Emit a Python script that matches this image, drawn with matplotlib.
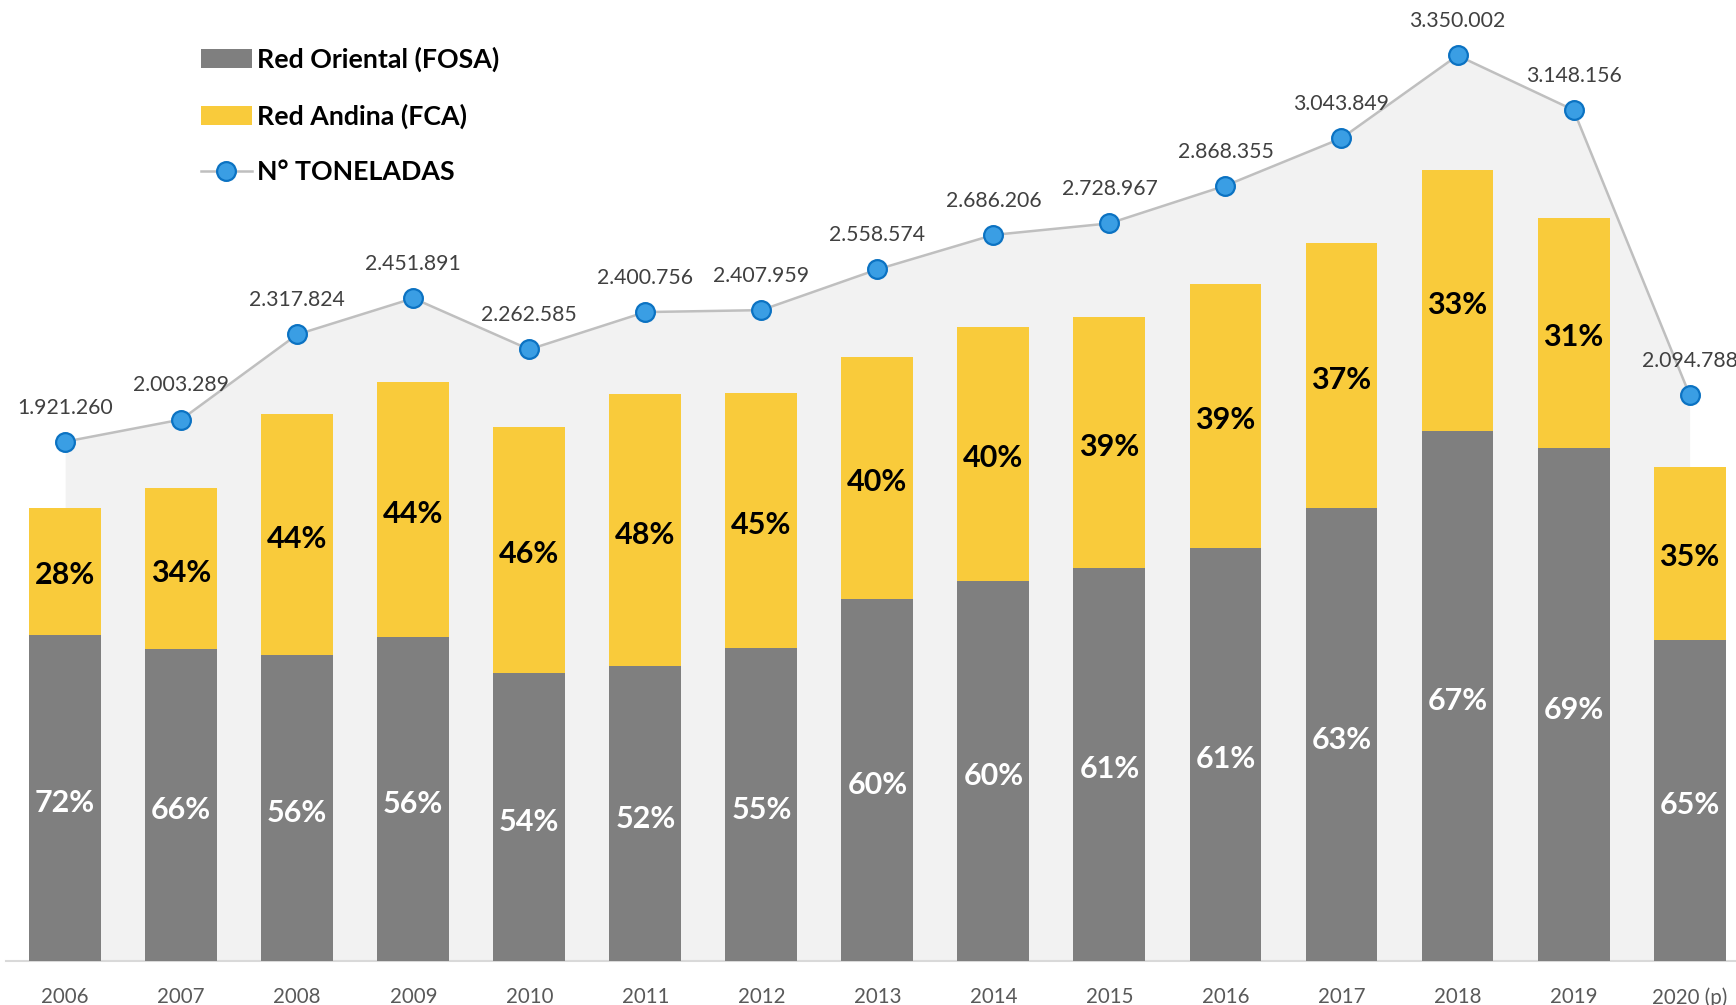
import matplotlib
matplotlib.use("Agg")
import matplotlib.pyplot as plt
from matplotlib.patches import Patch
from matplotlib.lines import Line2D
import numpy as np

years = ['2006', '2007', '2008', '2009', '2010', '2011', '2012', '2013',
         '2014', '2015', '2016', '2017', '2018', '2019', '2020 (p)']
toneladas = [1921260, 2003289, 2317824, 2451891, 2262585, 2400756, 2407959,
             2558574, 2686206, 2728967, 2868355, 3043849, 3350002, 3148156,
             2094788]
fosa_pct = [72, 66, 56, 56, 54, 52, 55, 60, 60, 61, 61, 63, 67, 69, 65]
fca_pct = [28, 34, 44, 44, 46, 48, 45, 40, 40, 39, 39, 37, 33, 31, 35]

FONT = ['Lato', 'DejaVu Sans']
plt.rcParams['font.family'] = FONT

GRAY = '#7F7F7F'
YELLOW = '#F9CB3B'
LINE = '#BFBFBF'
AREA = '#F2F2F2'
MK = dict(marker='o', markersize=13.5, markerfacecolor='#3A9EE4',
          markeredgecolor='#0B72C2', markeredgewidth=1.6)

W, H = 1736, 1005
fig = plt.figure(figsize=(W / 100, H / 100), dpi=100)
base_px = 961
ax = fig.add_axes([6 / W, (H - base_px) / H, 1 - 6 / W, base_px / H])
ax2 = ax.twinx()

x = np.arange(len(years))
tot = np.array(toneladas, dtype=float)
fosa = tot * np.array(fosa_pct) / 100.0
fca = tot * np.array(fca_pct) / 100.0

ax.set_zorder(2)
ax.patch.set_visible(False)
ax2.set_zorder(1)
ax2.fill_between(x, 0, tot, color=AREA, linewidth=0, zorder=1)

bw = 0.62
ax.bar(x, fosa, width=bw, color=GRAY, zorder=3)
ax.bar(x, fca, width=bw, bottom=fosa, color=YELLOW, zorder=3)

for i in range(len(x)):
    ax.annotate(f'{fosa_pct[i]}%', (x[i], fosa[i] / 2), xytext=(0, -3.5),
                textcoords='offset points', ha='center', va='center',
                color='white', fontsize=22, fontweight='bold', zorder=5)
    ax.annotate(f'{fca_pct[i]}%', (x[i], fosa[i] + fca[i] / 2), xytext=(0, -3),
                textcoords='offset points', ha='center', va='center',
                color='black', fontsize=22, fontweight='bold', zorder=5)

bar_top = base_px / 2.36e-4
line_top = base_px / 2.703e-4
ax.set_ylim(0, bar_top)
ax2.set_ylim(0, line_top)

scale = bar_top / line_top
ax.plot(x, tot * scale, color=LINE, linewidth=1.8, zorder=6, **MK)

for i in range(len(x)):
    lab = f'{toneladas[i]:,}'.replace(',', '.')
    ax.annotate(lab, (x[i], tot[i] * scale), xytext=(0, 24.5),
                textcoords='offset points', ha='center', va='center',
                fontsize=15.3, color='#404040', zorder=7,
                annotation_clip=False)

ax.set_xlim(-0.51, 14.4)
ax.set_xticks(x)
ax.set_xticklabels(years)
ax.tick_params(axis='x', length=0, pad=19, labelsize=14.8, labelcolor='#595959')
ax.tick_params(axis='y', left=False, labelleft=False)
ax2.tick_params(axis='y', right=False, labelright=False)
for a in (ax, ax2):
    for s in ('top', 'left', 'right', 'bottom'):
        a.spines[s].set_visible(False)
ax.spines['bottom'].set_visible(True)
ax.spines['bottom'].set_color('#D9D9D9')
ax.spines['bottom'].set_linewidth(1.5)

handles = [
    Patch(facecolor=GRAY, edgecolor='none', label='Red Oriental (FOSA)'),
    Patch(facecolor=YELLOW, edgecolor='none', label='Red Andina (FCA)'),
    Line2D([0], [0], color=LINE, linewidth=1.8, label='N° TONELADAS', **MK),
]
leg = ax.legend(handles=handles, loc='upper left',
                bbox_to_anchor=(201 / W, 1 - 46.5 / H), bbox_transform=fig.transFigure,
                frameon=False, prop={'family': FONT, 'weight': 'bold', 'size': 19.3},
                handlelength=1.9, handleheight=0.7, handletextpad=0.2,
                labelspacing=1.18, borderpad=0, borderaxespad=0)
leg.set_zorder(10)

fig.savefig('out.png', dpi=100)
